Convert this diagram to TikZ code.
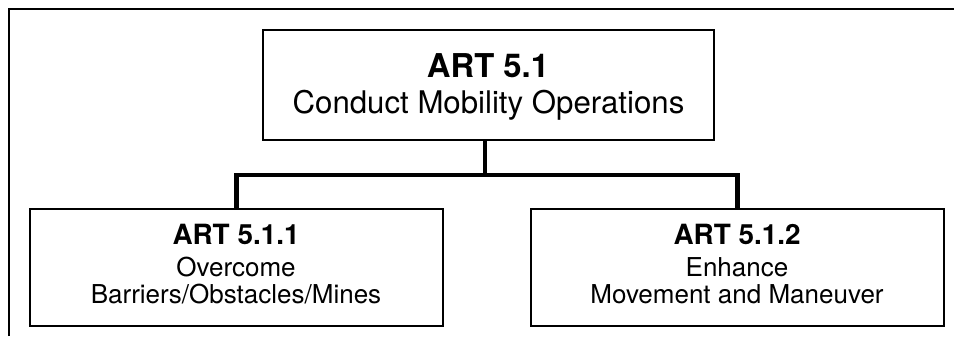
\documentclass[tikz,border=0pt]{standalone}
\usepackage{fontspec}
\setmainfont{TeX Gyre Heros}
\begin{document}
\begin{tikzpicture}[x=0.75pt,y=-0.75pt,
  box/.style={draw=black,line width=1.5pt,fill=white,inner sep=0pt,minimum height=117*0.75pt,minimum width=413*0.75pt},
  topbox/.style={box,minimum height=110*0.75pt,minimum width=451*0.75pt},
  conn/.style={draw=black,line width=3.4pt,line join=miter,line cap=butt},
  frame/.style={draw=black,line width=2pt},
  tbold/.style={anchor=base,inner sep=0pt,font=\fontsize{24.6pt}{28pt}\selectfont\bfseries},
  treg/.style={anchor=base,inner sep=0pt,font=\fontsize{23.4pt}{28pt}\selectfont},
  cbold/.style={anchor=base,inner sep=0pt,font=\fontsize{20.9pt}{24pt}\selectfont\bfseries},
  creg/.style={anchor=base,inner sep=0pt,font=\fontsize{19.5pt}{23pt}\selectfont}]
\useasboundingbox (0,0) rectangle (954,339);
% frame
\coordinate (fl) at (9,336);
\coordinate (fc) at (9,9);
\coordinate (fr) at (954,9);
\draw[frame] (fl) -- (fc) -- (fr);
% boxes
\node[topbox] (top) at (488.5,85) {};
\node[box] (c1) at (236.5,267.5) {};
\node[box] (c2) at (737.5,267.5) {};
% connectors
\coordinate (bar) at (485,175);
\draw[conn] (top.south -| bar) -- (bar);
\draw[conn] (c1.north) |- (bar) -| (c2.north);
% texts
\node[tbold] (t1) at (488,77) {ART 5.1};
\node[treg] (t2) at (488.5,113) {Conduct Mobility Operations};
\node[cbold] (a1) at (236,244.3) {ART 5.1.1};
\node[creg] (a2) at (236,276.5) {Overcome};
\node[creg] (a3) at (236,303.3) {Barriers/Obstacles/Mines};
\node[cbold] (b1) at (737,244.3) {ART 5.1.2};
\node[creg] (b2) at (737,276.5) {Enhance};
\node[creg] (b3) at (737,303.3) {Movement and Maneuver};
\end{tikzpicture}
\end{document}
